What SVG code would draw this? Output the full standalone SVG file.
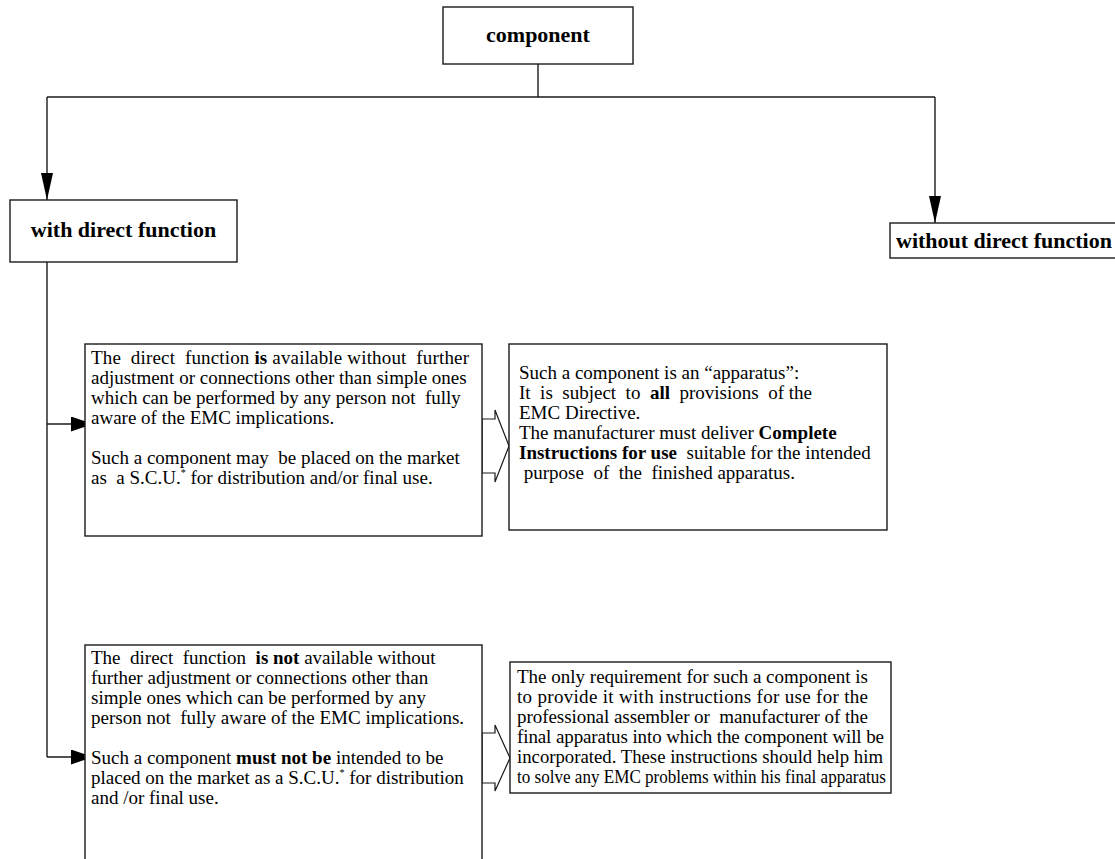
<svg xmlns="http://www.w3.org/2000/svg" width="1115" height="859" viewBox="0 0 1115 859">
<style>
.box{fill:#fff;stroke:#1a1a1a;stroke-width:1.4}
.ln{fill:none;stroke:#1a1a1a;stroke-width:1.4}
.blk{fill:#fff;stroke:#1a1a1a;stroke-width:1.2}
text{font-family:"Liberation Serif","Times New Roman",serif;fill:#000;white-space:pre}
.h{font-size:22px;font-weight:bold}
.t{font-size:19px}
.b{font-weight:bold}
.sup{font-size:10px}
</style>
<defs>
<marker id="down" markerUnits="userSpaceOnUse" markerWidth="27" markerHeight="12" refX="27" refY="6" orient="auto" viewBox="0 0 27 12"><path d="M0,0 L27,6 L0,12 Z" fill="#000"/></marker>
<marker id="side" markerUnits="userSpaceOnUse" markerWidth="22" markerHeight="15" refX="22" refY="7.5" orient="auto" viewBox="0 0 22 15"><path d="M0,0 L22,7.5 L0,15 Z" fill="#000"/></marker>
</defs>
<g id="connectors">
<path class="ln" d="M538,64 V97"/>
<path class="ln" d="M47,97 H935"/>
<path class="ln" d="M47,97 V200" marker-end="url(#down)"/>
<path class="ln" d="M935,97 V223" marker-end="url(#down)"/>
<path class="ln" d="M47,262 V757"/>
<path class="ln" d="M47,424 H93" marker-end="url(#side)"/>
<path class="ln" d="M47,757 H93" marker-end="url(#side)"/>
<polygon class="blk" points="482,419 495,419 495,410 509,446 495,482 495,473 482,473"/>
<polygon class="blk" points="482,733 495,733 495,725 510,758 495,791 495,783 482,783"/>
</g>
<g id="component">
<rect class="box" x="443" y="7" width="190" height="57"/>
<text class="h" x="538" y="42" text-anchor="middle">component</text>
</g>
<g id="with-direct">
<rect class="box" x="10" y="200" width="227" height="62"/>
<text class="h" x="123.5" y="237" text-anchor="middle">with direct function</text>
</g>
<g id="without-direct">
<rect class="box" x="890" y="223" width="230" height="35"/>
<text class="h" x="896" y="248">without direct function</text>
</g>
<g id="available">
<rect class="box" x="85" y="344" width="397" height="192"/>
<text class="t" x="91" y="364" textLength="378" lengthAdjust="spacing">The  direct  function <tspan class="b">is</tspan> available without  further</text>
<text class="t" x="91" y="384">adjustment or connections other than simple ones</text>
<text class="t" x="91" y="404">which can be performed by any person not  fully</text>
<text class="t" x="91" y="424">aware of the EMC implications.</text>
<text class="t" x="91" y="464">Such a component may  be placed on the market</text>
<text class="t" x="91" y="484">as  a S.C.U.<tspan class="sup" dy="-8">*</tspan><tspan dy="8"> for distribution and/or final use.</tspan></text>
</g>
<g id="apparatus">
<rect class="box" x="509" y="344" width="378" height="186"/>
<text class="t" x="519" y="379">Such a component is an “apparatus”:</text>
<text class="t" x="519" y="399">It  is  subject  to  <tspan class="b">all</tspan>  provisions  of the</text>
<text class="t" x="519" y="419">EMC Directive.</text>
<text class="t" x="519" y="439">The manufacturer must deliver <tspan class="b">Complete</tspan></text>
<text class="t" x="519" y="459"><tspan class="b">Instructions for use</tspan>  suitable for the intended</text>
<text class="t" x="519" y="479"> purpose  of  the  finished apparatus.</text>
</g>
<g id="not-available">
<rect class="box" x="85" y="645" width="397" height="220"/>
<text class="t" x="91" y="664">The  direct  function  <tspan class="b">is not</tspan> available without</text>
<text class="t" x="91" y="684">further adjustment or connections other than</text>
<text class="t" x="91" y="704">simple ones which can be performed by any</text>
<text class="t" x="91" y="724">person not  fully aware of the EMC implications.</text>
<text class="t" x="91" y="764">Such a component <tspan class="b">must not be</tspan> intended to be</text>
<text class="t" x="91" y="784">placed on the market as a S.C.U.<tspan class="sup" dy="-8">*</tspan><tspan dy="8"> for distribution</tspan></text>
<text class="t" x="91" y="804">and /or final use.</text>
</g>
<g id="only-requirement">
<rect class="box" x="510" y="662" width="381" height="131"/>
<text class="t" x="517" y="683" textLength="351" lengthAdjust="spacing">The only requirement for such a component is</text>
<text class="t" x="517" y="703" textLength="351" lengthAdjust="spacing">to provide it with instructions for use for the</text>
<text class="t" x="517" y="723" textLength="351" lengthAdjust="spacing">professional assembler or  manufacturer of the</text>
<text class="t" x="517" y="743" textLength="367" lengthAdjust="spacing">final apparatus into which the component will be</text>
<text class="t" x="517" y="763" textLength="366" lengthAdjust="spacingAndGlyphs">incorporated. These instructions should help him</text>
<text class="t" x="517" y="783" textLength="369" lengthAdjust="spacingAndGlyphs">to solve any EMC problems within his final apparatus</text>
</g>
</svg>
